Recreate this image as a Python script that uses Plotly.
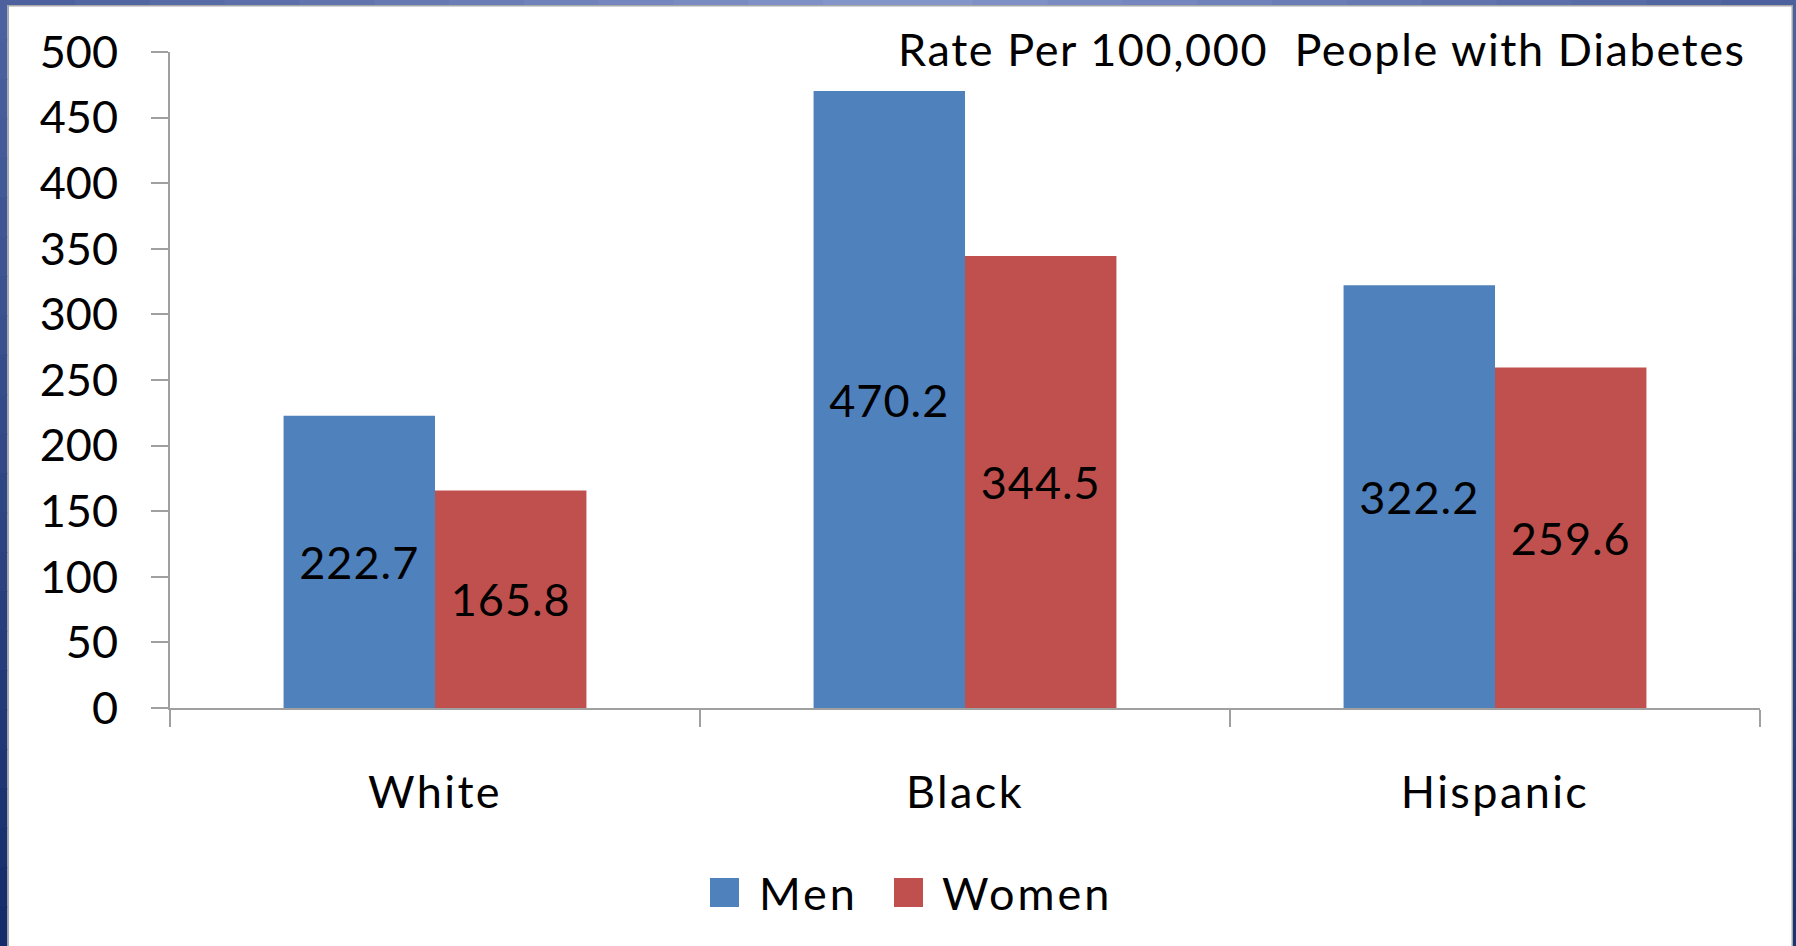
import plotly.graph_objects as go

categories = ["White", "Black", "Hispanic"]
men = [222.7, 470.2, 322.2]
women = [165.8, 344.5, 259.6]
series_names = ["Men", "Women"]
y_ticks = [0, 50, 100, 150, 200, 250, 300, 350, 400, 450, 500]
title_text = "Rate Per 100,000  People with Diabetes"

W, H = 1796, 946
L, R, T, B = 170, 36, 52, 238
PW, PH = W - L - R, H - T - B

def px(x):
    return (x - L) / PW

def py(y):
    return (H - B - y) / PH

def spaced(s, ls):
    return f'<span style="letter-spacing:{ls}px">{s}</span>'

BLUE = "#4f81bd"
RED = "#c0504d"
FONT = "Lato"
FS = 45

fig = go.Figure()
for name, vals, col in [(series_names[0], men, BLUE), (series_names[1], women, RED)]:
    fig.add_trace(go.Bar(
        x=categories, y=vals, name=name, marker=dict(color=col, line=dict(width=0)),
        text=[spaced(f"{v:.1f}", 1) for v in vals], textposition="inside", insidetextanchor="middle",
        textangle=0, constraintext="none",
        textfont=dict(family=FONT, size=FS, color="black"), showlegend=False,
    ))

shapes = []
def lerp(c1, c2, t):
    a = [int(c1[i:i+2], 16) for i in (1, 3, 5)]
    b = [int(c2[i:i+2], 16) for i in (1, 3, 5)]
    return "#%02x%02x%02x" % tuple(round(a[i] + (b[i] - a[i]) * t) for i in range(3))

N = 24
for i in range(N):
    y0 = i * H / N
    y1 = (i + 1) * H / N + 1
    c = lerp("#4c62a0", "#152c6b", i / (N - 1))
    shapes.append(dict(type="rect", xref="paper", yref="paper", x0=px(0), x1=px(7.5),
                       y0=py(y1), y1=py(y0), fillcolor=c, line=dict(width=0), layer="above"))
    c2 = lerp("#4c62a0", "#1a3473", i / (N - 1))
    shapes.append(dict(type="rect", xref="paper", yref="paper", x0=px(1793), x1=px(W),
                       y0=py(y1), y1=py(y0), fillcolor=c2, line=dict(width=0), layer="above"))
for i in range(N):
    x0 = i * W / N
    x1 = (i + 1) * W / N + 1
    t = 1 - abs((i + 0.5) / N - 0.5) * 2
    c = lerp("#4a5f9c", "#8797cc", t)
    shapes.append(dict(type="rect", xref="paper", yref="paper", x0=px(x0), x1=px(x1),
                       y0=py(5), y1=py(0), fillcolor=c, line=dict(width=0), layer="above"))
shapes.append(dict(type="rect", xref="paper", yref="paper", x0=px(7.5), x1=px(9),
                   y0=py(H), y1=py(5), fillcolor="#a8a8a8", line=dict(width=0), layer="above"))
shapes.append(dict(type="rect", xref="paper", yref="paper", x0=px(7.5), x1=px(1793),
                   y0=py(6.5), y1=py(5), fillcolor="#a8a8a8", line=dict(width=0), layer="above"))
shapes.append(dict(type="rect", xref="paper", yref="paper", x0=px(1791.5), x1=px(1793),
                   y0=py(H), y1=py(5), fillcolor="#a8a8a8", line=dict(width=0), layer="above"))

annotations = []
leg = [(series_names[0], BLUE, 710, 757), (series_names[1], RED, 894, 940)]
for name, col, sx, tx in leg:
    shapes.append(dict(type="rect", xref="paper", yref="paper", x0=px(sx), x1=px(sx + 29),
                       y0=py(907), y1=py(878), fillcolor=col, line=dict(width=0)))
    annotations.append(dict(text=spaced(name, 3), xref="paper", yref="paper", x=px(tx), y=py(893),
                            xanchor="left", yanchor="middle", showarrow=False,
                            font=dict(family=FONT, size=FS, color="black")))

annotations.append(dict(text=spaced(title_text, 1.6), xref="paper", yref="paper", x=px(1748), y=py(49),
                        xanchor="right", yanchor="middle", showarrow=False,
                        font=dict(family=FONT, size=FS, color="black")))

AX = "#a0a0a0"
fig.update_layout(
    width=W, height=H, margin=dict(l=L, r=R, t=T, b=B),
    paper_bgcolor="white", plot_bgcolor="white",
    barmode="group", bargap=1.5 / 3.5, bargroupgap=0,
    showlegend=False,
    font=dict(family=FONT, size=FS, color="black"),
    xaxis=dict(showline=True, linecolor=AX, linewidth=2, ticks="outside", tickson="boundaries",
               ticklen=17, tickwidth=2, tickcolor=AX, showgrid=False, zeroline=False,
               tickmode="array", tickvals=categories,
               ticktext=[spaced(c, 2.4) for c in categories],
               tickfont=dict(family=FONT, size=FS, color="black"), ticklabelstandoff=44),
    yaxis=dict(range=[0, 500], tickvals=y_ticks, showline=True, linecolor=AX, linewidth=2,
               ticks="outside", ticklen=17, tickwidth=2, tickcolor=AX, showgrid=False,
               zeroline=False, tickfont=dict(family=FONT, size=FS, color="black"),
               ticklabelstandoff=24),
    shapes=shapes, annotations=annotations,
)

fig.write_html("out.html")
